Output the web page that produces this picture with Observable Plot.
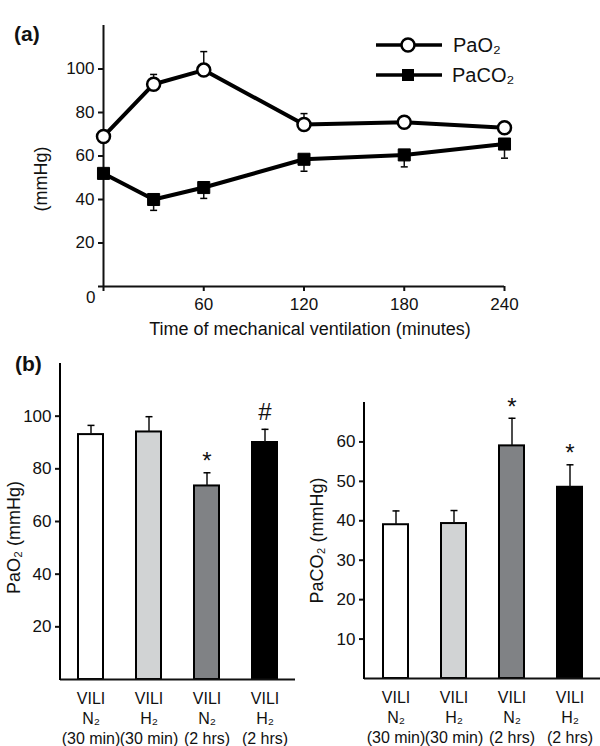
<!DOCTYPE html>
<html><head><meta charset="utf-8">
<script src="https://cdn.jsdelivr.net/npm/d3@7"></script>
<script src="https://cdn.jsdelivr.net/npm/@observablehq/plot@0.6"></script>
<style>
body{margin:0;background:#fff;}
#wrap{position:relative;width:600px;height:746px;font-family:"Liberation Sans",Arial,sans-serif;color:#111;}
#wrap svg.pl{position:absolute;}
.tag{position:absolute;font-weight:bold;font-size:21px;line-height:1;}
#legend{position:absolute;left:0;top:0;}
</style></head><body><div id="wrap"></div>
<script>
// ---- Panel (a) data ----
const times = [0, 30, 60, 120, 180, 240];
const paO2 = [69, 93, 99.5, 74.5, 75.5, 73];
const paO2Sd = [0, 4.5, 8.5, 5, 1.5, 0.8];
const paCO2 = [52, 40, 45.5, 58.5, 60.5, 65.5];
const paCO2Sd = [2, 5, 5, 5.5, 5.5, 6.5];
const timeTicks = [0, 60, 120, 180, 240];
const mmHgTicks = [0, 20, 40, 60, 80, 100];

// ---- Panel (b) data ----
const groups = ["VILI\nN₂\n(30 min)", "VILI\nH₂\n(30 min)", "VILI\nN₂\n(2 hrs)", "VILI\nH₂\n(2 hrs)"];
const groupFills = ["#ffffff", "#d1d3d4", "#808285", "#000000"];
const barO2 = [93, 94, 73.5, 90];
const barO2Sd = [3.5, 5.8, 5, 5];
const barO2Mark = ["", "", "*", "#"];
const barCO2 = [39, 39.3, 59, 48.5];
const barCO2Sd = [3.5, 3.3, 7, 5.7];
const barCO2Mark = ["", "", "*", "*"];
const barO2Ticks = [20, 40, 60, 80, 100];
const barCO2Ticks = [10, 20, 30, 40, 50, 60];

const font = "'Liberation Sans', Arial, sans-serif";
const cap = {draw(ctx, size) { const r = Math.sqrt(size / Math.PI); ctx.moveTo(-r, 0); ctx.lineTo(r, 0); }};
const wrap = document.getElementById("wrap");

function place(svg, left, top) {
  svg.classList.add("pl");
  svg.style.left = left + "px";
  svg.style.top = top + "px";
  wrap.appendChild(svg);
}

// ---- Panel (a) ----
const tsO2 = times.map((t, i) => ({t, v: paO2[i], e: paO2Sd[i]}));
const tsCO2 = times.map((t, i) => ({t, v: paCO2[i], e: paCO2Sd[i]}));

const plotA = Plot.plot({
  width: 600, height: 340,
  marginLeft: 103, marginRight: 96, marginTop: 25, marginBottom: 54,
  style: {fontFamily: font, fontSize: "17px", color: "#111", background: "transparent", overflow: "visible"},
  x: {domain: [0, 240]},
  y: {domain: [0, 120]},
  marks: [
    Plot.axisX({ticks: timeTicks, tickSize: 5, tickPadding: 6, tickFormat: d => d === 0 ? "" : d, label: null, strokeWidth: 2}),
    Plot.axisY({ticks: mmHgTicks, tickSize: 5, tickPadding: 4, tickFormat: d => d === 0 ? "" : d, label: null, strokeWidth: 2}),
    Plot.text([mmHgTicks[0]], {x: d => d, y: d => d, text: d => String(d), textAnchor: "end", dx: -8, dy: 11}),
    Plot.ruleX([0], {strokeWidth: 2}),
    Plot.ruleY([0], {strokeWidth: 2}),
    Plot.ruleX(tsO2.filter(d => d.e > 0), {x: "t", y1: "v", y2: d => d.v + d.e, strokeWidth: 1.5}),
    Plot.dot(tsO2.filter(d => d.e > 0), {x: "t", y: d => d.v + d.e, symbol: cap, r: 3.5, stroke: "black", fill: "none", strokeWidth: 1.5}),
    Plot.ruleX(tsCO2, {x: "t", y1: "v", y2: d => d.v - d.e, strokeWidth: 1.5}),
    Plot.dot(tsCO2, {x: "t", y: d => d.v - d.e, symbol: cap, r: 3.5, stroke: "black", fill: "none", strokeWidth: 1.5}),
    Plot.line(tsCO2, {x: "t", y: "v", strokeWidth: 4, stroke: "black"}),
    Plot.line(tsO2, {x: "t", y: "v", strokeWidth: 4, stroke: "black"}),
    Plot.dot(tsCO2, {x: "t", y: "v", symbol: "square", r: 6.8, fill: "black", stroke: "black", strokeWidth: 1}),
    Plot.dot(tsO2, {x: "t", y: "v", symbol: "circle", r: 6.5, fill: "white", stroke: "black", strokeWidth: 2.5}),
    Plot.text(["(mmHg)"], {frameAnchor: "left", textAnchor: "middle", lineAnchor: "middle", text: d => d, rotate: -90, dx: -62, dy: 23, fontSize: 18}),
    Plot.text(["Time of mechanical ventilation (minutes)"], {frameAnchor: "bottom", textAnchor: "middle", lineAnchor: "middle", text: d => d, dx: 6, dy: 43, fontSize: 18})
  ]
});
place(plotA, 0, 0);

// ---- Panel (b) ----
function barPlot(vals, sds, marks, ticks, yMax, label, m, labelDx, labelDy) {
  const data = groups.map((g, i) => ({g, v: vals[i], e: sds[i], f: groupFills[i], m: marks[i]}));
  const p = Plot.plot({
    width: 300, height: 406,
    marginLeft: m[0], marginRight: m[1], marginTop: m[2], marginBottom: m[3],
    style: {fontFamily: font, fontSize: "17px", color: "#111", background: "transparent", overflow: "visible"},
    x: {domain: groups, paddingInner: 0.57, paddingOuter: 0.29, axis: null},
    y: {domain: [0, yMax]},
    color: {type: "identity"},
    marks: [
      Plot.axisY({ticks, tickSize: 5, tickPadding: 4, label: null, strokeWidth: 2}),
      Plot.barY(data, {x: "g", y: "v", fill: "f", stroke: "black", strokeWidth: 2}),
      Plot.ruleX(data, {x: "g", y1: "v", y2: d => d.v + d.e, strokeWidth: 1.5}),
      Plot.dot(data, {x: "g", y: d => d.v + d.e, symbol: cap, r: 3.5, stroke: "black", fill: "none", strokeWidth: 1.5}),
      Plot.ruleY([0], {strokeWidth: 2}),
      Plot.text(data.filter(d => d.m === "*"), {x: "g", y: d => d.v + d.e, text: "m", dy: -11, fontSize: 24}),
      Plot.text(data.filter(d => d.m === "#"), {x: "g", y: d => d.v + d.e, text: "m", dy: -17, fontSize: 24}),
      Plot.text(data, {x: "g", text: "g", frameAnchor: "bottom", lineAnchor: "top", dy: 10, lineHeight: 1.26, fontSize: 16}),
      Plot.text([label], {frameAnchor: "left", textAnchor: "middle", lineAnchor: "middle", text: d => d, rotate: -90, dx: labelDx, dy: labelDy, fontSize: 18})
    ]
  });
  // y-axis domain line drawn from the plot's own scales
  const xs = p.scale("x"), ys = p.scale("y");
  const x0 = Math.min(...xs.range);
  d3.select(p).append("line")
    .attr("x1", x0).attr("x2", x0)
    .attr("y1", ys.range[0] + 1).attr("y2", ys.range[1])
    .attr("stroke", "black").attr("stroke-width", 2);
  return p;
}

const plotB1 = barPlot(barO2, barO2Sd, barO2Mark, barO2Ticks, 120, "PaO₂ (mmHg)", [60, 5, 23, 67], -46, 16);
place(plotB1, 0, 340);
const plotB2 = barPlot(barCO2, barCO2Sd, barCO2Mark, barCO2Ticks, 70, "PaCO₂ (mmHg)", [64, 0, 62, 68], -47, 0);
place(plotB2, 300, 340);

// ---- panel tags ----
for (const [t, l, tp] of [["(a)", 14, 23], ["(b)", 15, 353]]) {
  const d = document.createElement("div");
  d.className = "tag"; d.textContent = t; d.style.left = l + "px"; d.style.top = tp + "px";
  wrap.appendChild(d);
}

// ---- legend ----
const ns = "http://www.w3.org/2000/svg";
const lg = document.createElementNS(ns, "svg");
lg.setAttribute("id", "legend"); lg.setAttribute("width", 600); lg.setAttribute("height", 100);
lg.innerHTML = `
  <g stroke="black" stroke-width="3.5"><line x1="376" x2="442" y1="45" y2="45"/><line x1="376" x2="442" y1="75" y2="75"/></g>
  <circle cx="408" cy="45" r="6.5" fill="white" stroke="black" stroke-width="2.5"/>
  <rect x="402" y="69" width="12" height="12" fill="black"/>
  <g font-family="${font}" font-size="20" fill="#111" dominant-baseline="central">
    <text x="453" y="45">PaO₂</text><text x="452" y="75">PaCO₂</text>
  </g>`;
wrap.appendChild(lg);
</script></body></html>
